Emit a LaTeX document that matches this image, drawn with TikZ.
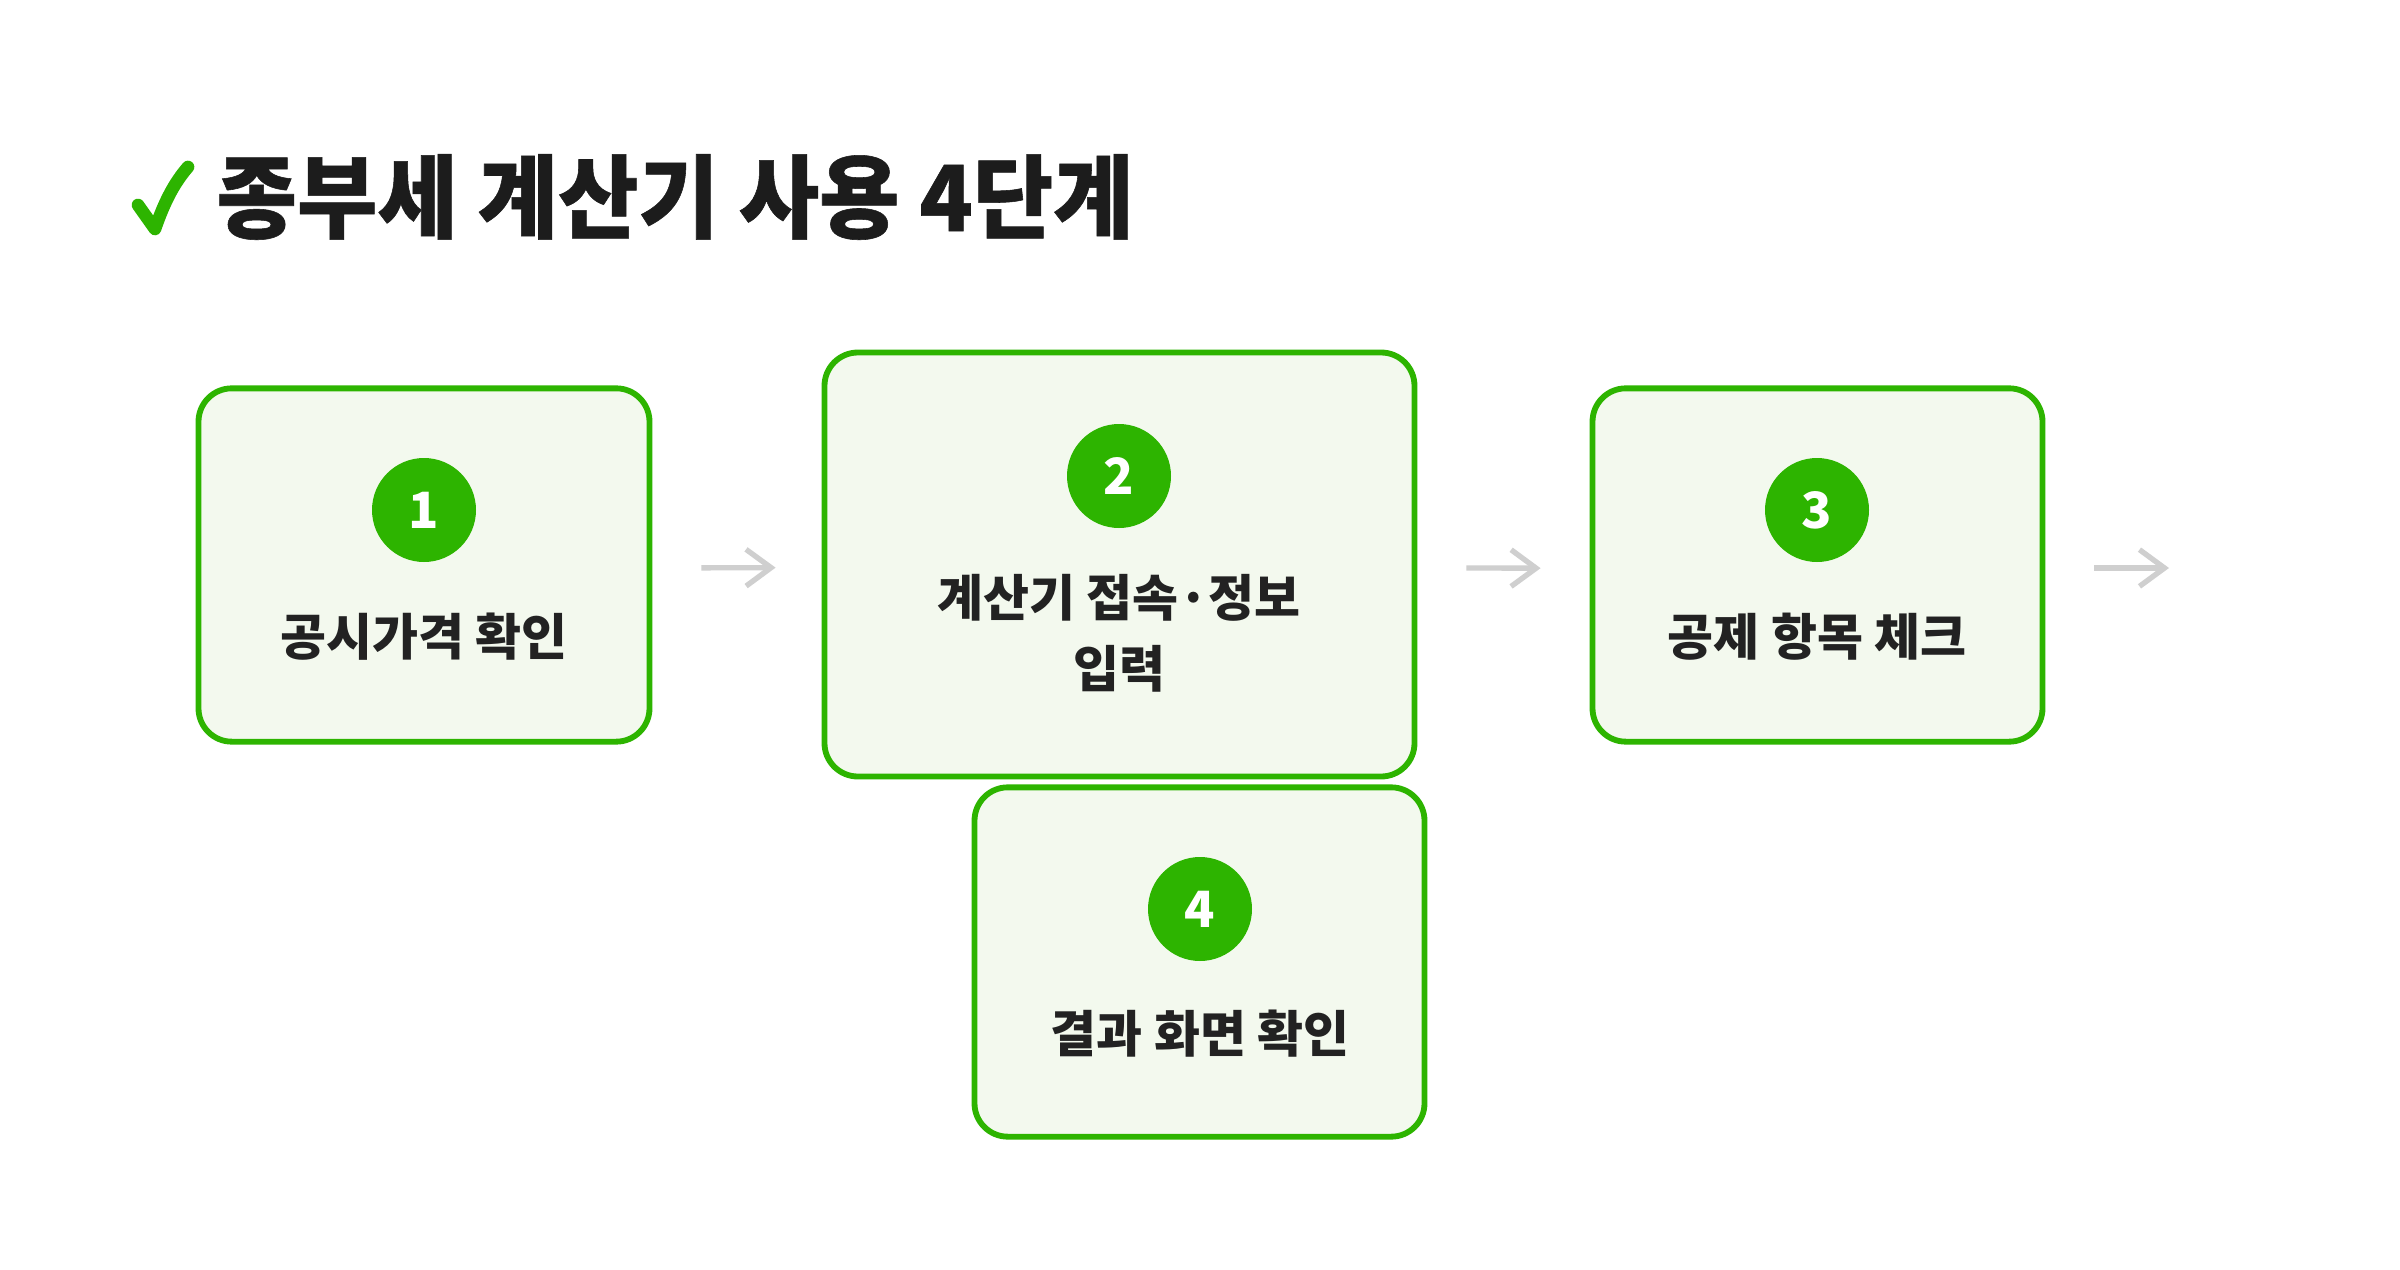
\documentclass[tikz,border=0pt]{standalone}
\usepackage{fontspec}
\usetikzlibrary{arrows.meta}
\newfontfamily\kr{Noto Sans CJK KR}
\newfontfamily\krtitle{Noto Sans CJK KR}[FakeStretch=0.96, FakeBold=0.6]
\definecolor{brandgreen}{HTML}{2DB400}
\definecolor{boxfill}{HTML}{F3F9EE}
\definecolor{inkdark}{HTML}{222222}
\definecolor{titleink}{HTML}{1C1C1C}
\definecolor{arrowgray}{HTML}{CFCFCF}
\tikzset{
  stepbox/.style={draw=brandgreen, line width=1.75pt, fill=boxfill, rounded corners=10pt, inner sep=0pt},
  numdot/.style={circle, fill=brandgreen, minimum size=31.2pt, inner sep=0pt, text=white, font=\kr\bfseries\fontsize{15}{15}\selectfont},
  steplabel/.style={text=inkdark, font=\kr\bfseries\fontsize{15}{21.3}\selectfont, align=center, inner sep=0pt},
  flowarrow/.style={draw=arrowgray, line width=1.6pt, -{Straight Barb[length=7.5pt, width=11pt, line width=1.6pt]}},
}
\begin{document}
\begin{tikzpicture}[x=0.3pt, y=-0.3pt]
  \useasboundingbox[fill=white] (0,0) rectangle (2400,1270);

  % title
  \draw[brandgreen, line width=3.8pt, line cap=round, line join=round]
    (138,205) -- (155,229) .. controls (165,200) and (175,182) .. (188,167);
  \node[anchor=west, inner sep=0pt, text=titleink, font=\krtitle\bfseries\fontsize{27.3}{27.3}\selectfont] (title) at (216,197) {종부세 계산기 사용 4단계};

  % boxes
  \node[stepbox, minimum width=135.3pt, minimum height=106pt] (b1) at (424,565) {};
  \node[stepbox, minimum width=177pt, minimum height=127.2pt] (b2) at (1119.5,564.5) {};
  \node[stepbox, minimum width=135pt, minimum height=106pt] (b3) at (1817.5,565) {};
  \node[stepbox, minimum width=135pt, minimum height=104.8pt] (b4) at (1199.5,962) {};

  % number badges
  \node[numdot] (n1) at (424,510) {1};
  \node[numdot] (n2) at (1119,476) {2};
  \node[numdot] (n3) at (1817,510) {3};
  \node[numdot] (n4) at (1200,909) {4};

  % labels
  \node[steplabel] (t1) at (424,637) {공시가격 확인};
  \node[steplabel] (t2) at (1119,633) {계산기 접속·정보\\입력};
  \node[steplabel] (t3) at (1817,637) {공제 항목 체크};
  \node[steplabel] (t4) at (1200,1034) {결과 화면 확인};

  % arrows
  \coordinate (end3) at (2169,568);
  \draw[flowarrow, shorten <=14.7pt, shorten >=13.8pt] ([yshift=-0.9pt]b1.east) -- ([yshift=-0.9pt]b2.west);
  \draw[flowarrow, shorten <=14.7pt, shorten >=14.7pt] ([yshift=-1pt]b2.east) -- ([yshift=-1pt]b3.west);
  \draw[flowarrow, shorten <=14.7pt] (b3.east |- end3) -- (end3);
\end{tikzpicture}
\end{document}
